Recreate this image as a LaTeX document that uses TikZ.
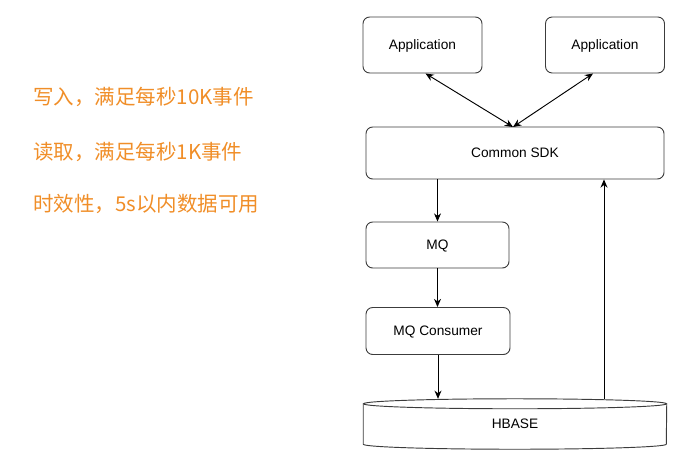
\documentclass[tikz,border=0pt]{standalone}
\usepackage{fontspec}
\usepackage{xcolor}
\usetikzlibrary{arrows.meta}
\setmainfont{Liberation Sans}
\newfontfamily\cjk{Noto Sans CJK SC}
\definecolor{noteorange}{RGB}{240,142,40}
\definecolor{boxline}{RGB}{60,60,60}

\begin{document}
\begin{tikzpicture}[x=0.03cm, y=-0.03cm,
    box/.style={draw=boxline, line width=0.8pt, rounded corners=0.2cm, inner sep=0pt, text depth=0pt, font=\fontsize{11.7}{13}\selectfont},
    note/.style={anchor=west, inner sep=0pt, text=noteorange, font=\cjk\fontsize{17.5}{20}\selectfont},
    link/.style={line width=0.8pt, -{Stealth[length=7pt, width=6pt]}},
    twoway/.style={line width=0.8pt, {Stealth[length=7pt, width=6pt]}-{Stealth[length=7pt, width=6pt]}}]
  \useasboundingbox (0,0) rectangle (697,464);

  % requirements
  \node[note] (write) at (33,97) {写入，满足每秒10K事件};
  \node[note] (read) at (33,152) {读取，满足每秒1K事件};
  \node[note] (fresh) at (33,204) {时效性，5s以内数据可用};

  % applications and sdk
  \node[box, minimum width=3.57cm, minimum height=1.68cm] (app1) at (422.5,45) {Application};
  \node[box, minimum width=3.57cm, minimum height=1.68cm] (app2) at (605,45) {Application};
  \node[box, minimum width=8.94cm, minimum height=1.56cm] (sdk) at (515,153) {Common SDK};
  \coordinate (sdkin) at (513,127);
  \draw[twoway] (sdkin) -- ([xshift=0.09cm]app1.south);
  \draw[twoway] (sdkin) -- ([xshift=-0.36cm]app2.south);

  % queue
  \node[box, minimum width=4.29cm, minimum height=1.38cm] (mq) at (437.5,245) {MQ};
  \node[box, minimum width=4.32cm, minimum height=1.41cm] (cons) at (438,331) {MQ Consumer};

  % storage
  \node[inner sep=0pt, text depth=0pt, minimum width=9.09cm, minimum height=1.5cm, font=\fontsize{11.7}{13}\selectfont] (hb) at (515,424) {HBASE};
  \draw[boxline, line width=0.8pt] ([yshift=-0.15cm]hb.north) ellipse [x radius=4.545cm, y radius=0.15cm];
  \draw[boxline, line width=0.8pt] ([yshift=-0.15cm]hb.north west) -- ([yshift=0.15cm]hb.south west)
    arc [start angle=180, end angle=360, x radius=4.545cm, y radius=0.15cm] -- ([yshift=-0.15cm]hb.north east);

  \draw[link] (sdk.south -| mq.north) -- (mq.north);
  \draw[link] (mq.south) -- (mq.south |- cons.north);
  \draw[link] (cons.south) -- (cons.south |- hb.north);
  \coordinate (back) at (604,0);
  \draw[link] (back |- hb.north) -- (back |- sdk.south);
\end{tikzpicture}
\end{document}
